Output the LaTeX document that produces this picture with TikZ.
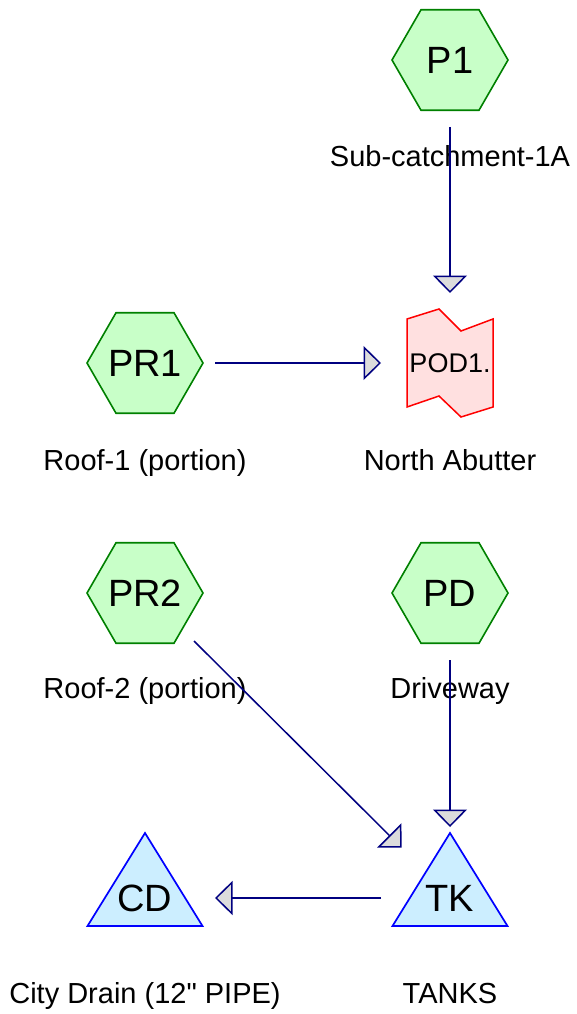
\documentclass[tikz,border=0pt]{standalone}
\usepackage{fontspec}
\setmainfont{Liberation Sans}
\usetikzlibrary{shapes.geometric,arrows.meta}
\definecolor{hexfill}{HTML}{C8FFC8}
\definecolor{hexline}{HTML}{008000}
\definecolor{podfill}{HTML}{FFE0E0}
\definecolor{podline}{HTML}{FF0000}
\definecolor{tkfill}{HTML}{CCEEFF}
\definecolor{tkline}{HTML}{0000FF}
\definecolor{flowline}{HTML}{000080}
\definecolor{tipfill}{HTML}{DCDCDC}
\begin{document}
\begin{tikzpicture}[x=1pt,y=-1pt,
  hexnode/.style={regular polygon, regular polygon sides=6, minimum size=116pt,
    inner sep=0pt, draw=hexline, fill=hexfill, line width=1.6pt,
    label={[inner sep=0pt, font=\fontsize{38}{44}\selectfont]center:#1}},
  podshape/.style={draw=podline, fill=podfill, line width=1.5pt, line join=miter},
  tkshape/.style={draw=tkline, fill=tkfill, line width=1.7pt, line join=miter},
  bigtext/.style={inner sep=0pt, font=\fontsize{38}{44}\selectfont},
  podtext/.style={inner sep=0pt, font=\fontsize{27}{32}\selectfont},
  lbl/.style={anchor=base, inner sep=0pt, font=\fontsize{29}{34}\selectfont},
  flow/.style={draw=flowline, line width=1.5pt,
    -{Triangle[length=17.5pt,width=34pt,fill=tipfill]}}
]
\useasboundingbox (0,0) rectangle (576,1014);

% shapes drawn directly
\begin{scope}[shift={(450,363)}]
  \draw[podshape] (-43,-44) -- (-11,-54) -- (11,-32) -- (43,-44) -- (43,44)
    -- (11,54) -- (-11,33) -- (-43,44) -- cycle;
\end{scope}
\begin{scope}[shift={(450,898)}]
  \draw[tkshape] (0,-65) -- (57.5,28) -- (-57.5,28) -- cycle;
\end{scope}
\begin{scope}[shift={(145,898)}]
  \draw[tkshape] (0,-65) -- (57.5,28) -- (-57.5,28) -- cycle;
\end{scope}

% nodes
\node[hexnode=P1] (P1) at (450,60) {};
\node[hexnode=PR1] (PR1) at (145,363) {};
\node[hexnode=PR2] (PR2) at (145,593) {};
\node[hexnode=PD] (PD) at (450,593) {};
\node[podtext] (POD1) at (450,363) {POD1.};
\node[bigtext] (TK) at (450,898) {TK};
\node[bigtext] (CD) at (145,898) {CD};

% labels
\node[lbl] (lP1) at (450,166) {Sub-catchment-1A};
\node[lbl] (lPR1) at (145,470) {Roof-1 (portion)};
\node[lbl] (lPOD1) at (450,470) {North Abutter};
\node[lbl] (lPR2) at (145,698) {Roof-2 (portion)};
\node[lbl] (lPD) at (450,698) {Driveway};
\node[lbl] (lCD) at (145,1003) {City Drain (12\textquotedbl{} PIPE)};
\node[lbl] (lTK) at (450,1003) {TANKS};

% connectors
\draw[flow] ([yshift=-67pt]P1.center) -- ([yshift=70pt]POD1.center);
\draw[flow] ([xshift=70pt]PR1.center) -- ([xshift=-69pt]POD1.center);
\draw[flow] ([yshift=-67pt]PD.center) -- ([yshift=71pt]TK.center);
\draw[flow] ([xshift=49pt,yshift=-48pt]PR2.center) -- ([xshift=-48.3pt,yshift=50.3pt]TK.center);
\draw[flow] ([xshift=-69pt]TK.center) -- ([xshift=70pt]CD.center);
\end{tikzpicture}
\end{document}
